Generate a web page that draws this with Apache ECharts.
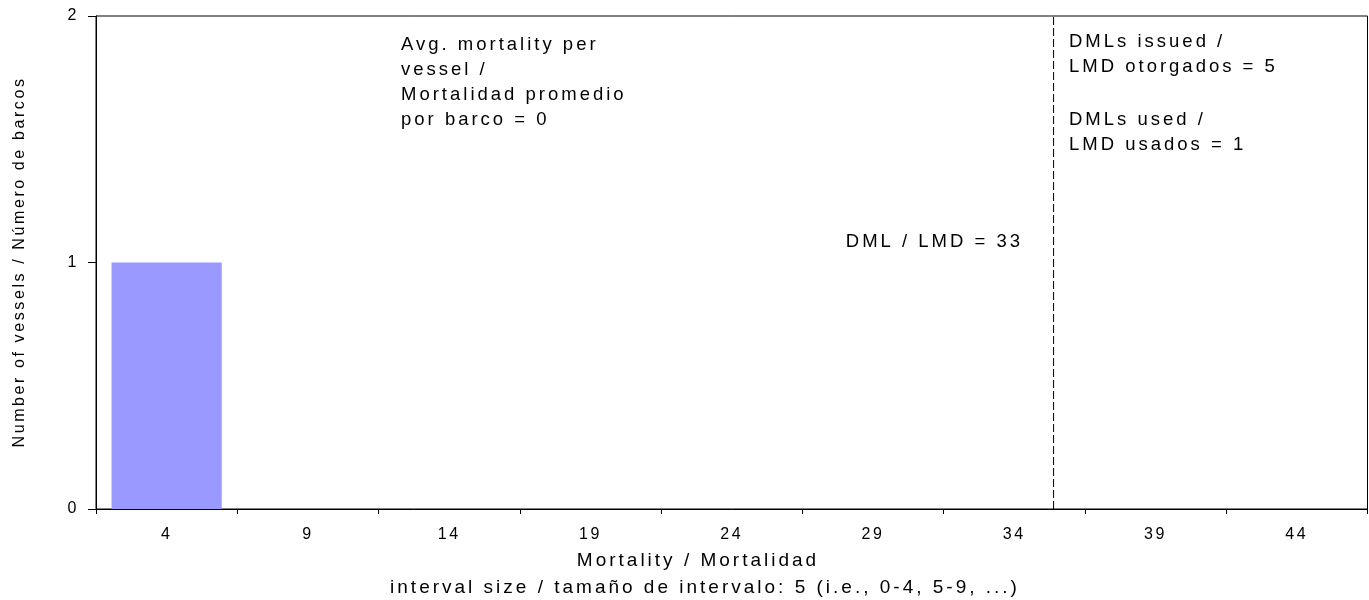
<!DOCTYPE html>
<html>
<head>
<meta charset="utf-8">
<script src="https://cdn.jsdelivr.net/npm/echarts@6/dist/echarts.min.js"></script>
<style>
  html, body { margin: 0; padding: 0; background: #fff; }
  #chart { width: 1369px; height: 600px; }
</style>
</head>
<body>
<div id="chart"></div>
<script>
// ---- data ----
const categories = ['4', '9', '14', '19', '24', '29', '34', '39', '44'];
const vesselCounts = [1, 0, 0, 0, 0, 0, 0, 0, 0];
const dmlValue = 33;
const dmlLinePosition = 33.89;  // mortality scale position of dashed DML line
const mortalityMax = 45;        // 9 intervals of 5
const dmlsIssued = 5;
const dmlsUsed = 1;
const avgMortality = 0;

// Spaced lettering like the original (Excel-style) rendering
(function () {
  const proto = CanvasRenderingContext2D.prototype;
  const orig = proto.fillText;
  proto.fillText = function (t, x, y, mw) {
    const m = /(\d+(?:\.\d+)?)px/.exec(this.font);
    const size = m ? parseFloat(m[1]) : 12;
    const has = 'letterSpacing' in this;
    if (has) this.letterSpacing = (size * 0.16).toFixed(1) + 'px';
    const r = mw === undefined ? orig.call(this, t, x, y) : orig.call(this, t, x, y, mw);
    if (has) this.letterSpacing = '0px';
    return r;
  };
})();

const FONT = '"Liberation Sans", Arial, sans-serif';
const chart = echarts.init(document.getElementById('chart'), null, { renderer: 'canvas' });

function txt(text, x, y, size, align, valign, extra, lineHeight) {
  const el = Object.assign({
    type: 'text', x: x, y: y, silent: true,
    style: {
      text: text, fill: '#000', font: size + 'px ' + FONT,
      align: align, verticalAlign: valign,
      textAlign: align, textVerticalAlign: valign
    }
  }, extra || {});
  if (lineHeight) el.style.lineHeight = lineHeight;
  return el;
}

const option = {
  animation: false,
  backgroundColor: '#fff',
  grid: {
    left: 96, right: 1.5, top: 16, bottom: 91,
    show: true, borderColor: '#000', borderWidth: 1, backgroundColor: 'transparent'
  },
  xAxis: [
    {
      type: 'category',
      data: categories,
      boundaryGap: true,
      axisLine: { lineStyle: { color: '#000', width: 1 } },
      axisTick: { show: true, alignWithLabel: false, length: 5, lineStyle: { color: '#000' } },
      axisLabel: { color: '#000', fontSize: 16, fontFamily: FONT, margin: 18, interval: 0 },
      splitLine: { show: false }
    },
    {
      type: 'value', min: 0, max: mortalityMax, show: false,
      splitLine: { show: false }
    }
  ],
  yAxis: {
    type: 'value', min: 0, max: 2, interval: 1,
    axisLine: { show: true, lineStyle: { color: '#000', width: 1 } },
    axisTick: { show: true, length: 8, lineStyle: { color: '#000' } },
    axisLabel: { color: '#000', fontSize: 16, fontFamily: FONT, margin: 17 },
    splitLine: { show: false }
  },
  series: [
    {
      type: 'bar',
      data: vesselCounts,
      barWidth: '78%',
      itemStyle: { color: '#9999FF' },
      xAxisIndex: 0
    },
    {
      type: 'line',
      xAxisIndex: 1,
      data: [[dmlLinePosition, 0], [dmlLinePosition, 2]],
      symbol: 'none',
      lineStyle: { color: '#000', width: 1, type: [8, 3] },
      z: 5
    }
  ],
  graphic: [
    txt('Number of vessels / Número de barcos', 20, 262, 16, 'center', 'middle', { rotation: Math.PI / 2 }),
    txt('Mortality / Mortalidad', 698, 561, 19, 'center', 'middle'),
    txt('interval size / tamaño de intervalo: 5 (i.e., 0-4, 5-9, ...)', 705, 588, 19, 'center', 'middle'),
    txt('Avg. mortality per\nvessel /\nMortalidad promedio\npor barco = ' + avgMortality, 401, 32.5, 18.5, 'left', 'top', null, 25),
    txt('DMLs issued /\nLMD otorgados = ' + dmlsIssued, 1069, 29.5, 18.5, 'left', 'top', null, 25),
    txt('DMLs used /\nLMD usados = ' + dmlsUsed, 1069, 107.5, 18.5, 'left', 'top', null, 25),
    txt('DML / LMD = ' + dmlValue, 1023, 242, 18.5, 'right', 'middle')
  ]
};

chart.setOption(option);
</script>
</body>
</html>
